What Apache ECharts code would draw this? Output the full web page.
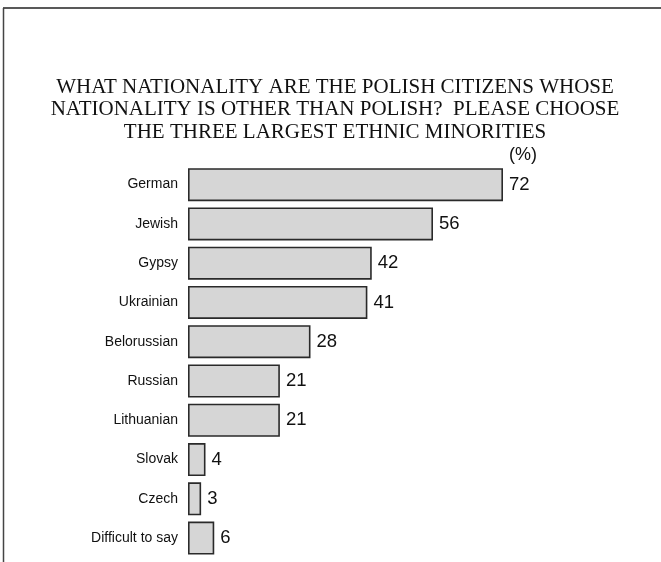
<!DOCTYPE html>
<html>
<head>
<meta charset="utf-8">
<script src="https://cdn.jsdelivr.net/npm/echarts@6/dist/echarts.min.js"></script>
<style>
html,body{margin:0;padding:0;background:#fff;}
#chart{width:661px;height:562px;}
</style>
</head>
<body>
<div id="chart"></div>
<script>
const categories = ['German','Jewish','Gypsy','Ukrainian','Belorussian','Russian','Lithuanian','Slovak','Czech','Difficult to say'];
const values = [72,56,42,41,28,21,21,4,3,6];
const titleLines = [
  'WHAT NATIONALITY ARE THE POLISH CITIZENS WHOSE',
  'NATIONALITY IS OTHER THAN POLISH?  PLEASE CHOOSE',
  'THE THREE LARGEST ETHNIC MINORITIES'
];
const unitLabel = '(%)';

const chart = echarts.init(document.getElementById('chart'), null, {renderer:'canvas'});
chart.setOption({
  backgroundColor:'#ffffff',
  animation:false,
  grid:{left:188, top:165, width:437.5, height:392.7, containLabel:false},
  xAxis:{type:'value', min:0, max:100, show:false},
  yAxis:{
    type:'category', data:categories, inverse:true,
    axisLine:{show:false}, axisTick:{show:false}, splitLine:{show:false},
    axisLabel:{fontFamily:'Liberation Sans, Arial, sans-serif', fontSize:14, color:'#111', margin:10}
  },
  series:[{
    type:'bar', data:values, barCategoryGap:'16%',
    itemStyle:{color:'#d6d6d6', borderColor:'#2a2a2a', borderWidth:1.6},
    label:{show:true, position:'right', distance:6, fontFamily:'Liberation Sans, Arial, sans-serif', fontSize:18.5, color:'#111'}
  }],
  graphic:[
    {type:'line', shape:{x1:3, y1:8, x2:661, y2:8}, style:{stroke:'#222', lineWidth:1.5}},
    {type:'line', shape:{x1:3.5, y1:8, x2:3.5, y2:562}, style:{stroke:'#444', lineWidth:1.5}},
    {type:'text', x:335, y:76, style:{text:titleLines.join('\n'), textAlign:'center', textVerticalAlign:'top', font:'21px "Liberation Serif", "Times New Roman", serif', lineHeight:22.5, fill:'#111'}},
    {type:'text', x:523, y:146, style:{text:unitLabel, textAlign:'center', textVerticalAlign:'top', font:'18px "Liberation Sans", Arial, sans-serif', fill:'#111'}}
  ]
});
</script>
</body>
</html>
